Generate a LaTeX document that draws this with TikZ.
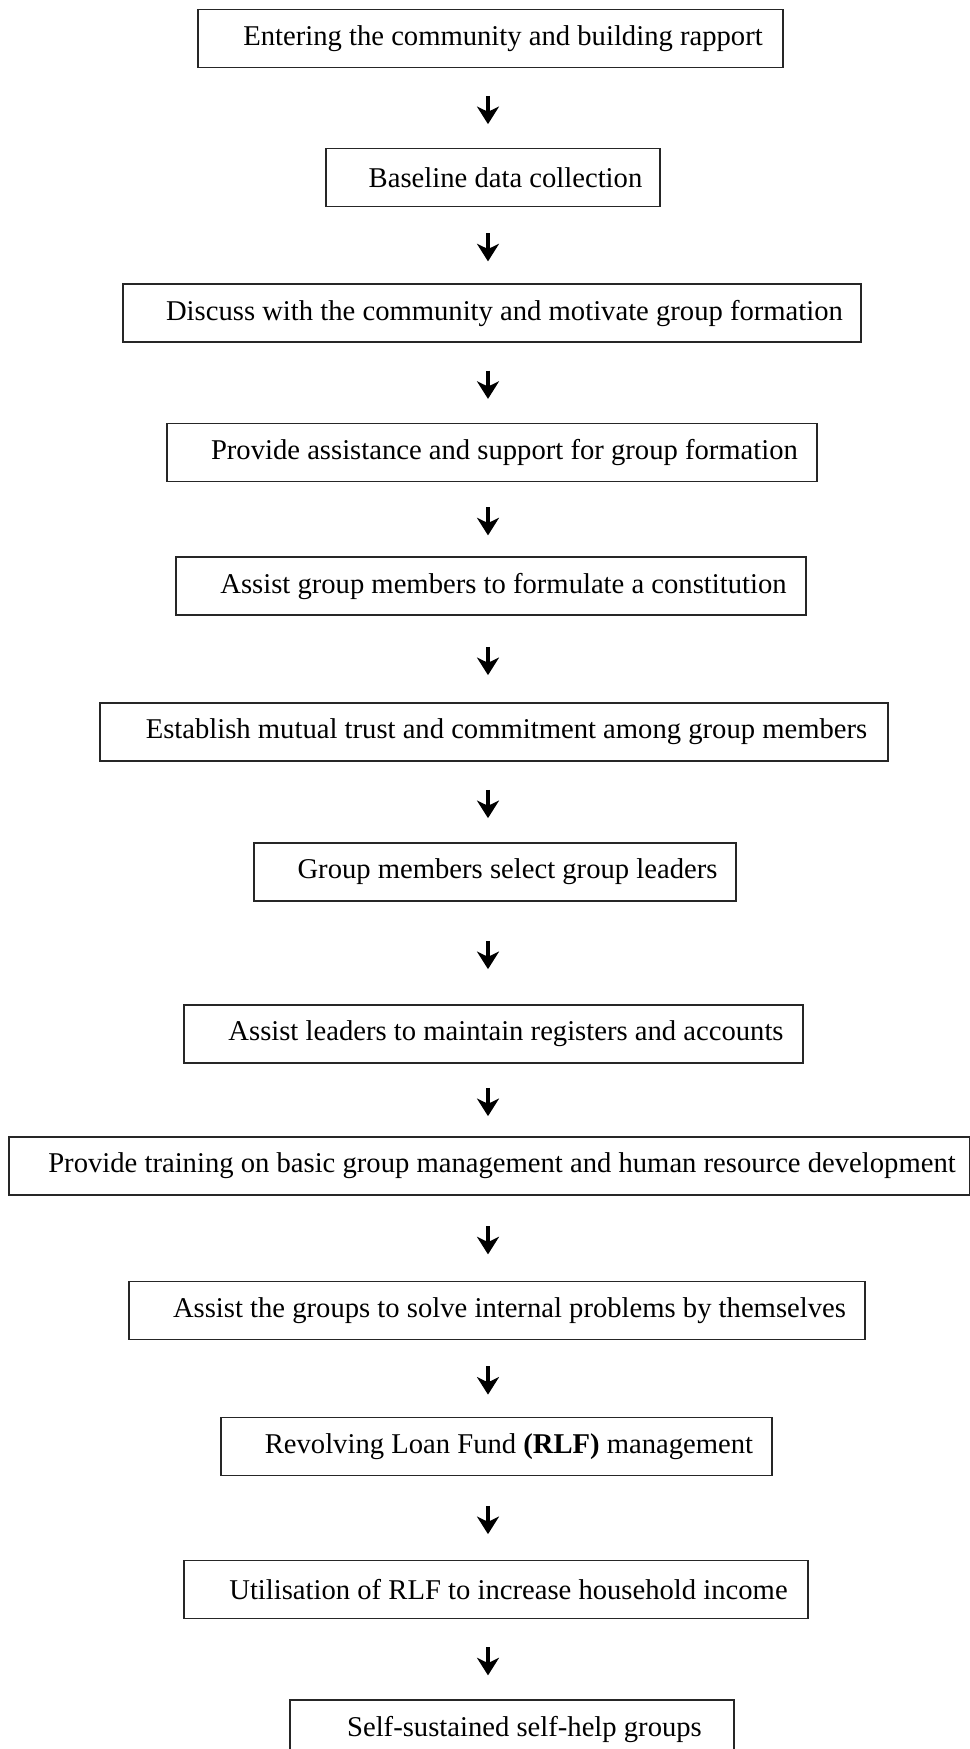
\documentclass[tikz,border=0pt]{standalone}
\usepackage{fontspec}
\setmainfont{Liberation Serif}
\usetikzlibrary{arrows.meta}

\tikzset{
  stepbox/.style={draw=black!85,line width=1pt,rectangle,minimum height=1.16cm,
    inner sep=2pt,font=\fontsize{16.3}{19}\selectfont,
    execute at begin node={\hspace*{0.5cm}}},
  flowarrow/.style={line width=2.3pt,-{Stealth[length=10pt,width=12.5pt,inset=3pt]}}
}

\begin{document}
\begin{tikzpicture}[x=0.02cm,y=-0.02cm]

      \useasboundingbox (0,0) rectangle (970,1749);
      \coordinate (axis) at (488,0);

      % steps of the process
      \node[stepbox,minimum width=11.70cm] (b1)  at (490.5,38.5)  {Entering the community and building rapport};
      \node[stepbox,minimum width=6.68cm]  (b2)  at (493,177.5)   {Baseline data collection};
      \node[stepbox,minimum width=14.76cm] (b3)  at (492,313)     {Discuss with the community and motivate group formation};
      \node[stepbox,minimum width=13.00cm] (b4)  at (492,452.5)   {Provide assistance and support for group formation};
      \node[stepbox,minimum width=12.60cm] (b5)  at (491,586)     {Assist group members to formulate a constitution};
      \node[stepbox,minimum width=15.76cm] (b6)  at (494,732)     {Establish mutual trust and commitment among group members};
      \node[stepbox,minimum width=9.64cm]  (b7)  at (495,872)     {Group members select group leaders};
      \node[stepbox,minimum width=12.38cm] (b8)  at (493.5,1034)  {Assist leaders to maintain registers and accounts};
      \node[stepbox,minimum width=19.22cm] (b9)  at (489.5,1166)  {Provide training on basic group management and human resource development};
      \node[stepbox,minimum width=14.72cm] (b10) at (497,1310.5)  {Assist the groups to solve internal problems by themselves};
      \node[stepbox,minimum width=11.02cm] (b11) at (496.5,1446.5) {Revolving Loan Fund \textbf{(RLF)} management};
      \node[stepbox,minimum width=12.48cm] (b12) at (496,1589.5)  {Utilisation of RLF to increase household income};
      \node[stepbox,minimum width=8.88cm]  (b13) at (512,1729)    {Self-sustained self-help groups};

      % arrows between the steps
      \draw[flowarrow,shorten <=0.55cm,shorten >=0.47cm]  (b1.south -| axis)  -- (b2.north -| axis);
      \draw[flowarrow,shorten <=0.515cm,shorten >=0.435cm] (b2.south -| axis) -- (b3.north -| axis);
      \draw[flowarrow,shorten <=0.555cm,shorten >=0.475cm] (b3.south -| axis) -- (b4.north -| axis);
      \draw[flowarrow,shorten <=0.495cm,shorten >=0.415cm] (b4.south -| axis) -- (b5.north -| axis);
      \draw[flowarrow,shorten <=0.62cm,shorten >=0.54cm]  (b5.south -| axis)  -- (b6.north -| axis);
      \draw[flowarrow,shorten <=0.56cm,shorten >=0.48cm]  (b6.south -| axis)  -- (b7.north -| axis);
      \draw[flowarrow,shorten <=0.78cm,shorten >=0.70cm]  (b7.south -| axis)  -- (b8.north -| axis);
      \draw[flowarrow,shorten <=0.48cm,shorten >=0.40cm]  (b8.south -| axis)  -- (b9.north -| axis);
      \draw[flowarrow,shorten <=0.605cm,shorten >=0.525cm] (b9.south -| axis) -- (b10.north -| axis);
      \draw[flowarrow,shorten <=0.52cm,shorten >=0.44cm]  (b10.south -| axis) -- (b11.north -| axis);
      \draw[flowarrow,shorten <=0.59cm,shorten >=0.51cm]  (b11.south -| axis) -- (b12.north -| axis);
      \draw[flowarrow,shorten <=0.555cm,shorten >=0.475cm] (b12.south -| axis) -- (b13.north -| axis);

    \end{tikzpicture}
\end{document}
